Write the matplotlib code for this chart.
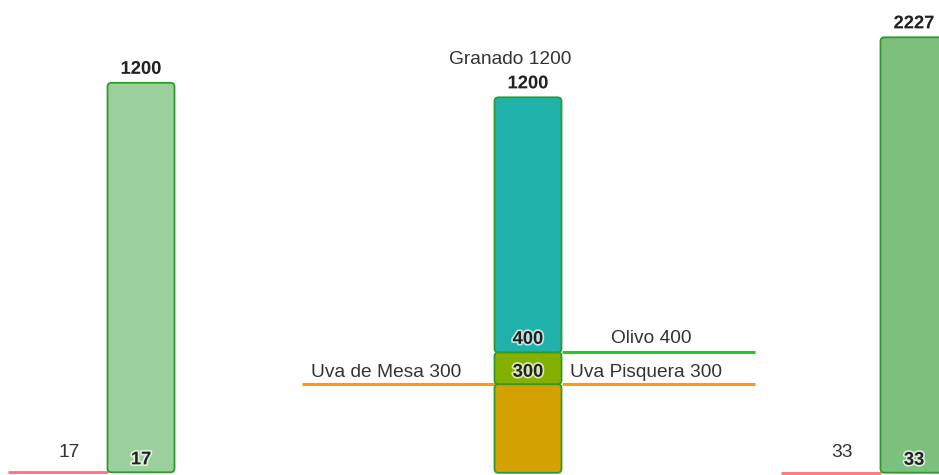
import matplotlib
matplotlib.use("Agg")
import matplotlib.pyplot as plt
from matplotlib.patches import FancyBboxPatch, BoxStyle
import matplotlib.patheffects as pe

plt.rcParams['font.family'] = ['Liberation Sans', 'DejaVu Sans']

# ---------------- data ----------------
bar_names = ["Cultivo A", "Granado", "Cultivo B"]
bar_low = [17, 22, 33]          # floating bar start values
bar_high = [1200, 1200, 2227]   # floating bar end values
# stacked segments of the middle bar (bounds)
mid_bounds = [22, 300, 400, 1200]
mid_labels = [None, 300, 400]   # value printed above a segment's lower boundary
# reference lines
ref_names = ["Uva de Mesa", "Uva Pisquera", "Olivo"]
ref_values = [300, 300, 400]
granado_title = "Granado 1200"

# ---------------- layout / style ----------------
W, H = 939, 475
fig = plt.figure(figsize=(W / 100, H / 100), dpi=100)

ylims = [(8.8, 1451.5), (15.1, 1505.3), (21.4, 2415.0)]
bar_x = [141, 528, 914]
bar_w = 67
edge_col = "#2e9a2e"
fill_cols = ["#9bcf9b", None, "#7dbf7d"]
mid_cols = ["#d4a200", "#84b000", "#20b2aa"]
txt_col = "#333333"
bold_col = "#222222"
halo = [pe.withStroke(linewidth=2.5, foreground="white", alpha=0.7)]
FS = 13.8
BFS = 13.2

axes = []
for i in range(3):
    ax = fig.add_axes([0, 0, 1, 1])
    ax.set_xlim(0, W)
    ax.set_ylim(*ylims[i])
    ax.axis("off")
    ax.patch.set_alpha(0)
    axes.append(ax)


def rbar(ax, x0, y0, y1, color):
    lo, hi = ax.get_ylim()
    s = H / (hi - lo)  # px per unit
    p = FancyBboxPatch((x0 - bar_w / 2, y0), bar_w, y1 - y0,
                       boxstyle=BoxStyle.Round(pad=0, rounding_size=4),
                       mutation_aspect=1 / s, facecolor=color,
                       edgecolor=edge_col, linewidth=1.3, zorder=3)
    ax.add_patch(p)


def label(ax, x, y, text, dy, bold=False, dx=0):
    kw = dict(ha="center", va="baseline", textcoords="offset pixels",
              xytext=(dx, dy), annotation_clip=False, zorder=5)
    if bold:
        ax.annotate(text, (x, y), fontsize=BFS, fontweight="bold",
                    color=bold_col, path_effects=halo, **kw)
    else:
        ax.annotate(text, (x, y), fontsize=FS, color=txt_col, **kw)


# outer bars (left & right panels)
for i in (0, 2):
    ax = axes[i]
    x = bar_x[i]
    rbar(ax, x, bar_low[i], bar_high[i], fill_cols[i])
    left = x - bar_w / 2
    ax.plot([left - 100, left], [bar_low[i]] * 2, color="#ff7373", lw=2.0,
            solid_capstyle="butt", zorder=2)
    label(ax, x, bar_high[i], str(bar_high[i]), 9, bold=True)
    label(ax, x, bar_low[i], str(bar_low[i]), 8, bold=True)
    label(ax, left - 38.5, bar_low[i], str(bar_low[i]), 15.5)

# middle stacked bar
ax = axes[1]
x = bar_x[1]
for j in range(len(mid_bounds) - 1):
    rbar(ax, x, mid_bounds[j], mid_bounds[j + 1], mid_cols[j])
for j in range(1, len(mid_bounds) - 1):
    label(ax, x, mid_bounds[j], str(mid_labels[j]), 8.5 if j == 2 else 7.5,
          bold=True)
label(ax, x, bar_high[1], str(bar_high[1]), 9, bold=True)
label(ax, x, bar_high[1], granado_title, 33, dx=-18)

left = x - bar_w / 2
right = x + bar_w / 2
ref_cols = ["#ff9a10", "#ff9a10", "#22cc22"]
ref_x = [(left - 193, left), (right, right + 193), (right, right + 193)]
ref_lab_x = [386.5, 646.3, 651]
ref_dy = [7.5, 7.5, 9.5]
for n, v, c, (xa, xb), lx, dy in zip(ref_names, ref_values, ref_cols, ref_x,
                                      ref_lab_x, ref_dy):
    ax.plot([xa, xb], [v, v], color=c, lw=2.2, solid_capstyle="butt", zorder=2)
    label(ax, lx, v, f"{n} {v}", dy)

fig.savefig("out.png", dpi=100, facecolor="white")
